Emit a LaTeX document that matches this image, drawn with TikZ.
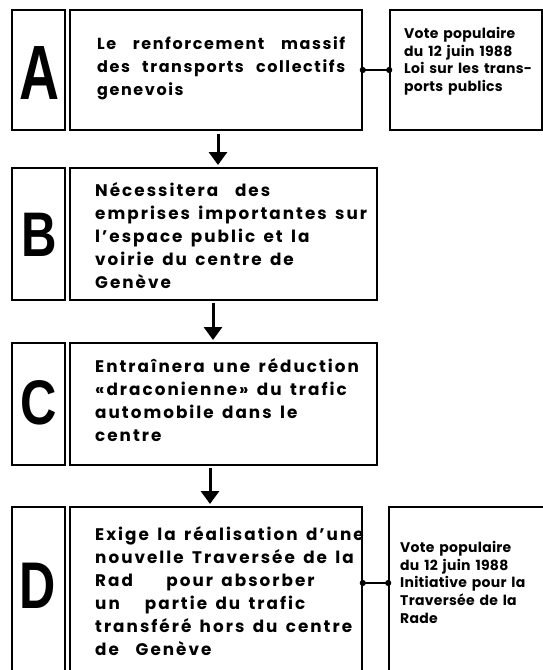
\documentclass[tikz,border=0pt]{standalone}
\usepackage{fontspec}
\setmainfont{Poppins}[BoldFont={* Bold},LetterSpace=12,WordSpace=1.5]
\newfontfamily\letterfont{Liberation Sans Bold}
\usetikzlibrary{arrows.meta}
\begin{document}
\begin{tikzpicture}[x=1pt,y=-1pt,
  frame/.style={draw, line width=1.6pt, rectangle, inner sep=0pt},
  txt/.style={anchor=north west, align=left, inner sep=0pt, font=\bfseries\fontsize{16.8}{23}\selectfont},
  note/.style={anchor=north west, align=left, inner sep=0pt, font=\bfseries\fontsize{14}{17.7}\selectfont\addfontfeature{LetterSpace=2}},
  flow/.style={line width=3pt, -{Triangle[width=18pt,length=13pt]}},
  link/.style={line width=1.8pt, {Circle[length=6pt]}-{Circle[length=6pt]}, shorten <=-3pt, shorten >=-3pt}]
\useasboundingbox (0,0) rectangle (543,670);
% boxes
\node[frame, minimum width=53, minimum height=120] (la) at (38.5,70) {};
\node[frame, minimum width=292, minimum height=120] (ma) at (216,70) {};
\node[frame, minimum width=152, minimum height=120] (na) at (466,70) {};
\node[frame, minimum width=53, minimum height=132] (lb) at (38.5,234) {};
\node[frame, minimum width=307, minimum height=132] (mb) at (223.5,234) {};
\node[frame, minimum width=53, minimum height=122] (lc) at (38.5,404) {};
\node[frame, minimum width=307, minimum height=122] (mc) at (223.5,404) {};
\node[frame, minimum width=53, minimum height=170] (ld) at (38.5,592) {};
\node[frame, minimum width=292, minimum height=170] (md) at (216,592) {};
\node[frame, minimum width=155, minimum height=170] (nd) at (466.5,592) {};
% letters
\node[font=\letterfont\fontsize{77}{77}\selectfont] at (39.5,73) {\scalebox{0.72}[1]{A}};
\node[font=\letterfont\fontsize{63}{63}\selectfont] at (39,235) {\scalebox{0.78}[1]{B}};
\node[font=\letterfont\fontsize{63}{63}\selectfont] at (38.5,403) {\scalebox{0.8}[1]{C}};
\node[font=\letterfont\fontsize{66}{66}\selectfont] at (38,586) {\scalebox{0.76}[1]{D}};
% texts
\node[txt, font=\bfseries\fontsize{16}{23}\selectfont\addfontfeature{LetterSpace=10}] (ta) at (97,36) {\makebox[248pt][s]{Le renforcement massif}\\\makebox[248pt][s]{des transports collectifs}\\genevois};
\node[txt] (tb) at (95,182) {Nécessitera\ \ des\\emprises importantes sur\\l'espace public et la\\voirie du centre de\\Genève};
\node[txt] (tc) at (95,358) {Entraînera une réduction\\«draconienne» du trafic\\automobile dans le\\centre};
\node[txt] (td) at (95,526) {Exige la réalisation d'une\\nouvelle Traversée de la\\Rad\ \ \ \ pour absorber\\un\ \ \ partie du trafic\\transféré hors du centre\\de\ \ Genève};
\node[note] (tna) at (404,27) {Vote populaire\\du 12 juin 1988\\Loi sur les trans-\\ports publics};
\node[note] (tnd) at (400,541) {Vote populaire\\du 12 juin 1988\\Initiative pour la\\Traversée de la\\Rade};
% arrows
\coordinate (a1) at (218,134);
\coordinate (b1) at (213,303);
\coordinate (c1) at (210,468);
\draw[flow] (a1) -- (218,165);
\draw[flow] (b1) -- (213,340);
\draw[flow] (c1) -- (210,504);
% links
\draw[link] (ma.east |- 0,70) -- (na.west |- 0,70);
\draw[link] (md.east |- 0,583) -- (nd.west |- 0,583);
\end{tikzpicture}
\end{document}
